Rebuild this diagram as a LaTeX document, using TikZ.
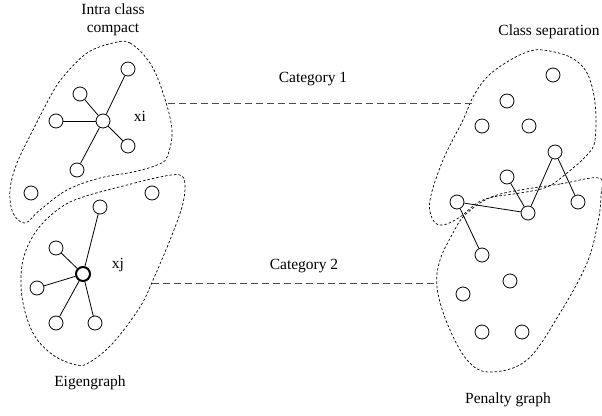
\documentclass[tikz,border=0pt]{standalone}
\usepackage{fontspec}
\setmainfont{Liberation Serif}
\begin{document}
\begin{tikzpicture}[x=1pt,y=-1pt,
  vtx/.style={circle,draw,minimum size=14pt,inner sep=0pt,line width=0.8pt},
  hub/.style={vtx,line width=2pt},
  edge/.style={line width=0.8pt},
  blob/.style={line width=0.7pt,dash pattern=on 2.5pt off 2pt},
  catline/.style={line width=0.9pt,draw=black!70,dash pattern=on 7pt off 4pt},
  lbl/.style={font=\fontsize{15.5}{18}\selectfont,inner sep=0pt,align=center}]
\useasboundingbox (0,0) rectangle (602,415);

% labels
\node[lbl] (tl) at (113,20) {Intra class\\compact};
\node[lbl] (eg) at (90,383) {Eigengraph};
\node[lbl] (cs) at (549,32) {Class separation};
\node[lbl] (pg) at (508,400) {Penalty graph};
\node[lbl] (c1) at (313,79) {Category 1};
\node[lbl] (c2) at (304,266) {Category 2};
\node[lbl] (xi) at (140,116) {xi};
\node[lbl] (xj) at (118,265) {xj};

% blobs
\draw[blob] plot[smooth cycle,tension=0.6] coordinates {
 (113,43) (130,43) (150,63) (163,93) (172,130) (167,157) (157,165)
 (133,172) (100,178) (67,190) (40,210) (25,223) (13,213) (10,190)
 (17,163) (33,130) (50,97) (63,77) (87,53)};
\draw[blob] plot[smooth cycle,tension=0.6] coordinates {
 (180,175) (185,185) (182,207) (170,240) (153,280) (140,307) (113,343)
 (90,362) (77,365) (53,355) (33,333) (22,297) (23,260) (37,230)
 (60,208) (83,197) (127,185) (160,177)};
\draw[blob] plot[smooth cycle,tension=0.6] coordinates {
 (543,50) (570,57) (587,73) (595,103) (595,140) (587,155) (567,173)
 (547,187) (520,193) (493,197) (477,203) (460,217) (443,225) (433,220)
 (430,200) (443,160) (463,120) (473,97) (487,77) (507,62) (527,52)};
\draw[blob] plot[smooth cycle,tension=0.6] coordinates {
 (599,178) (560,184) (520,190) (497,195) (480,203) (463,217) (453,233)
 (440,260) (437,287) (447,323) (467,360) (490,372) (527,360) (560,313)
 (587,263) (598,222) (601,195)};

% category lines
\coordinate (c1a) at (168,103);
\coordinate (c1b) at (473,103);
\coordinate (c2a) at (152,283);
\coordinate (c2b) at (437,283);
\draw[catline] (c1a) -- (c1b);
\draw[catline] (c2a) -- (c2b);

% left top cluster
\node[vtx] (a0) at (103,121) {};
\node[vtx] (a1) at (128,69) {};
\node[vtx] (a2) at (80,94) {};
\node[vtx] (a3) at (56,121) {};
\node[vtx] (a4) at (128,146) {};
\node[vtx] (a5) at (77,170) {};
\node[vtx] (a6) at (31,193) {};
\node[vtx] (a7) at (152,193) {};
\foreach \n in {a1,a2,a3,a4,a5} \draw[edge] (a0) -- (\n);

% left bottom cluster
\node[hub] (b0) at (83,274) {};
\node[vtx] (b1) at (100,207) {};
\node[vtx] (b2) at (56,248) {};
\node[vtx] (b3) at (37,288) {};
\node[vtx] (b4) at (56,323) {};
\node[vtx] (b5) at (95,323) {};
\foreach \n in {b1,b2,b3,b4,b5} \draw[edge] (b0) -- (\n);

% right cluster
\node[vtx] (r1) at (553,75) {};
\node[vtx] (r2) at (507,101) {};
\node[vtx] (r3) at (482,126) {};
\node[vtx] (r4) at (529,126) {};
\node[vtx] (r5) at (555,152) {};
\node[vtx] (r6) at (507,177) {};
\node[vtx] (r7) at (578,202) {};
\node[vtx] (r8) at (457,202) {};
\node[vtx] (r9) at (528,213) {};
\node[vtx] (r10) at (482,255) {};
\node[vtx] (r11) at (510,281) {};
\node[vtx] (r12) at (463,294) {};
\node[vtx] (r13) at (482,332) {};
\node[vtx] (r14) at (522,332) {};
\draw[edge] (r6) -- (r9);
\draw[edge] (r5) -- (r9);
\draw[edge] (r5) -- (r7);
\draw[edge] (r8) -- (r9);
\draw[edge] (r8) -- (r10);
\end{tikzpicture}
\end{document}
